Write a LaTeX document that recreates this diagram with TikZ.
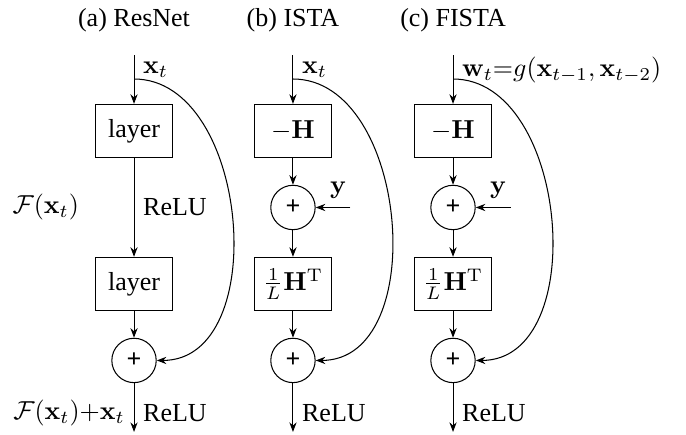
\documentclass[tikz,border=0pt]{standalone}
\usepackage[no-math]{fontspec}
\setmainfont{Liberation Serif}
\usepackage{amsmath,amssymb}
\usetikzlibrary{arrows.meta,positioning}

\begin{document}
\begin{tikzpicture}[node distance=0.36cm and 0.36cm, every node/.style={font=\normalsize}]
\tikzset{box/.style={draw, align=center, minimum width=1.03cm, minimum height=0.72cm}}
\tikzset{sum/.style={draw, circle, minimum size=0.6cm, inner sep=0pt, font=\normalsize\bfseries}}
\tikzset{arrow/.style={-{Stealth[length=1.3mm]}}}
\useasboundingbox (0,0) rectangle (9.275,-5.868);
% titles
\node (ta) at (1.812,-0.27) {(a) ResNet};
\node (tb) at (3.961,-0.27) {(b) ISTA};
\node (tc) at (6.125,-0.27) {(c) FISTA};
% (b) ISTA
\coordinate (b0) at (3.961,-0.744);
\coordinate (bbr) at (3.961,-1.068);
\node[box] (b1) at (3.961,-1.771) {$-\mathbf{H}$};
\node[sum, below=of b1] (b2) {+};
\node[box, below=of b2] (b3) {$\frac{1}{L}\mathbf{H}^{\mathrm{T}}$};
\node[sum, below=of b3] (b4) {+};
\coordinate (b5) at (3.961,-5.84);
\coordinate (by) at ([xshift=0.47cm]b2.east);
% (a) ResNet
\coordinate (a0) at (1.812,-0.744);
\coordinate (abr) at (1.812,-1.068);
\node[box] (a1) at (1.812,-1.771) {layer};
\node[box] (a2) at (a1 |- b3) {layer};
\node[sum] (a3) at (a1 |- b4) {+};
\coordinate (a4) at (1.812,-5.84);
% (c) FISTA
\coordinate (c0) at (6.125,-0.744);
\coordinate (cbr) at (6.125,-1.068);
\node[box] (c1) at (6.125,-1.771) {$-\mathbf{H}$};
\node[sum, below=of c1] (c2) {+};
\node[box, below=of c2] (c3) {$\frac{1}{L}\mathbf{H}^{\mathrm{T}}$};
\node[sum, below=of c3] (c4) {+};
\coordinate (c5) at (6.125,-5.84);
\coordinate (cy) at ([xshift=0.47cm]c2.east);
% connectors
\draw[arrow] (a0) -- node[right, pos=0.3] {$\mathbf{x}_t$} (a1);
\draw[arrow] (a1) -- node[right] {ReLU} node[left=0.62cm] {$\mathcal{F}(\mathbf{x}_t)$} (a2);
\draw[arrow] (a2) -- (a3);
\draw[arrow] (a3) -- node[right, pos=0.62] {ReLU} node[left, pos=0.62] {$\mathcal{F}(\mathbf{x}_t){+}\mathbf{x}_t$} (a4);
\draw[arrow] (abr) to[out=0, in=0, looseness=1.05] (a3);
\draw[arrow] (b0) -- node[right, pos=0.3] {$\mathbf{x}_t$} (b1);
\draw[arrow] (b1) -- (b2);
\draw[arrow] (by) -- node[above, pos=0.35] {$\mathbf{y}$} (b2);
\draw[arrow] (b2) -- (b3);
\draw[arrow] (b3) -- (b4);
\draw[arrow] (b4) -- node[right, pos=0.62] {ReLU} (b5);
\draw[arrow] (bbr) to[out=0, in=0, looseness=1.05] (b4);
\draw[arrow] (c0) -- node[right, pos=0.3] {$\mathbf{w}_t{=}g(\mathbf{x}_{t-1},\mathbf{x}_{t-2})$} (c1);
\draw[arrow] (c1) -- (c2);
\draw[arrow] (cy) -- node[above, pos=0.35] {$\mathbf{y}$} (c2);
\draw[arrow] (c2) -- (c3);
\draw[arrow] (c3) -- (c4);
\draw[arrow] (c4) -- node[right, pos=0.62] {ReLU} (c5);
\draw[arrow] (cbr) to[out=0, in=0, looseness=1.05] (c4);
\end{tikzpicture}
\end{document}
